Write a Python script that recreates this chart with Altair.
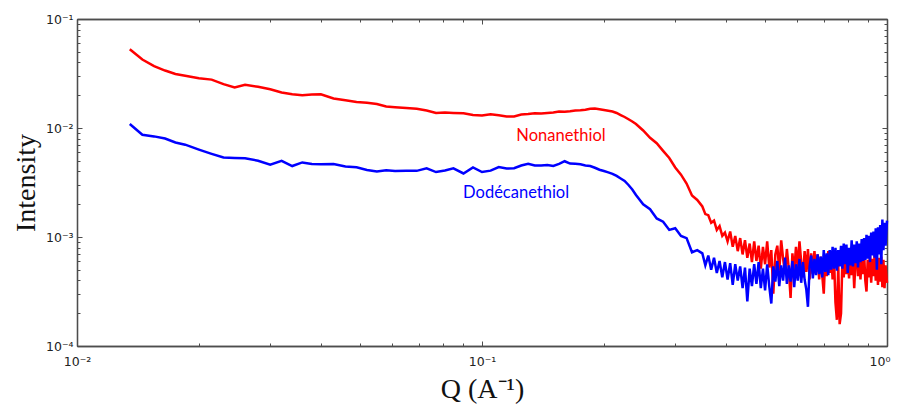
import altair as alt
import pandas as pd

# ---------------- data ----------------
q_low = [
    0.0135, 0.0145, 0.0155, 0.0165, 0.0175, 0.0185, 0.02, 0.0215, 0.023, 0.0245,
    0.026, 0.028, 0.03, 0.032, 0.034, 0.036, 0.038, 0.04, 0.043, 0.046,
    0.049, 0.052, 0.055, 0.058, 0.061, 0.065, 0.069, 0.073, 0.077, 0.081,
    0.085, 0.09, 0.095, 0.1, 0.105, 0.11, 0.115, 0.12, 0.125, 0.13,
    0.135, 0.14, 0.145, 0.15, 0.155, 0.16, 0.165, 0.17, 0.175, 0.18,
    0.185, 0.19, 0.195, 0.2, 0.205, 0.21, 0.215, 0.22, 0.225, 0.23,
    0.235, 0.24,
]
q_high = [
    0.25, 0.26, 0.27, 0.28, 0.29, 0.30, 0.31, 0.32, 0.33, 0.34,
    0.350, 0.356, 0.362, 0.368, 0.374, 0.380, 0.386, 0.392, 0.398, 0.404,
    0.410, 0.416, 0.422, 0.428, 0.434, 0.440, 0.446, 0.452, 0.458, 0.464,
    0.470, 0.476, 0.482, 0.488, 0.494, 0.500, 0.506, 0.512, 0.518, 0.524,
    0.530, 0.536, 0.542, 0.548, 0.554, 0.560, 0.566, 0.572, 0.578, 0.584,
    0.590, 0.596, 0.602, 0.608, 0.614, 0.620, 0.626, 0.632, 0.638, 0.644,
    0.650, 0.656, 0.662, 0.668, 0.674, 0.680, 0.686, 0.692, 0.698, 0.704,
    0.710, 0.716, 0.722, 0.728, 0.734, 0.740, 0.746, 0.752, 0.758, 0.764,
    0.770, 0.776, 0.782, 0.788, 0.794, 0.800, 0.806, 0.812, 0.818, 0.824,
    0.830, 0.836, 0.842, 0.848, 0.854, 0.860, 0.866, 0.872, 0.878, 0.884,
    0.890, 0.896, 0.902, 0.908, 0.914, 0.920, 0.926, 0.932, 0.938, 0.944,
    0.950, 0.956, 0.962, 0.968, 0.974, 0.980, 0.986, 0.992, 1.000,
]

# log10(Intensity), Nonanethiol (red)
nonane_log_low = [
    -1.278, -1.372, -1.433, -1.473, -1.504, -1.520, -1.544, -1.556, -1.598, -1.629,
    -1.604, -1.622, -1.645, -1.674, -1.691, -1.699, -1.692, -1.691, -1.729, -1.745,
    -1.761, -1.768, -1.780, -1.803, -1.809, -1.817, -1.823, -1.840, -1.863, -1.858,
    -1.862, -1.865, -1.881, -1.885, -1.873, -1.883, -1.894, -1.894, -1.876, -1.872,
    -1.865, -1.867, -1.862, -1.858, -1.849, -1.850, -1.846, -1.839, -1.837, -1.833,
    -1.824, -1.821, -1.828, -1.835, -1.842, -1.849, -1.862, -1.881, -1.899, -1.920,
    -1.940, -1.963,
]
nonane_log_high = [
    -2.023, -2.090, -2.140, -2.210, -2.275, -2.362, -2.428, -2.510, -2.620, -2.660,
    -2.720, -2.790, -2.800, -2.870, -2.850, -2.935, -2.900, -2.990, -2.960, -3.040,
    -2.950, -3.090, -2.990, -3.130, -3.010, -3.160, -3.030, -3.190, -3.060, -3.230,
    -3.040, -3.220, -3.080, -3.290, -3.090, -3.250, -3.040, -3.280, -3.120, -3.520,
    -3.160, -3.080, -3.310, -3.030, -3.200, -3.330, -3.110, -3.290, -3.560, -3.150,
    -3.320, -3.090, -3.280, -3.040, -3.230, -3.370, -3.130, -3.320, -3.110, -3.390,
    -3.150, -3.340, -3.130, -3.320, -3.160, -3.390, -3.180, -3.350, -3.520, -3.170,
    -3.360, -3.130, -3.330, -3.160, -3.390, -3.200, -3.600, -3.760, -3.260, -3.800,
    -3.700, -3.210, -3.370, -3.150, -3.340, -3.180, -3.380, -3.140, -3.350, -3.190,
    -3.470, -3.220, -3.140, -3.360, -3.170, -3.390, -3.190, -3.340, -3.150, -3.400,
    -3.500, -3.210, -3.370, -3.170, -3.420, -3.200, -3.360, -3.160, -3.400, -3.230,
    -3.440, -3.190, -3.410, -3.180, -3.460, -3.210, -3.470, -3.260, -3.420,
]

# log10(Intensity), Dodécanethiol (blue)
dodecane_log_low = [
    -1.963, -2.062, -2.077, -2.097, -2.133, -2.153, -2.198, -2.237, -2.271, -2.275,
    -2.277, -2.300, -2.336, -2.301, -2.349, -2.316, -2.331, -2.333, -2.330, -2.354,
    -2.361, -2.385, -2.400, -2.388, -2.394, -2.392, -2.393, -2.369, -2.404, -2.390,
    -2.370, -2.417, -2.361, -2.404, -2.391, -2.358, -2.372, -2.369, -2.344, -2.328,
    -2.344, -2.345, -2.339, -2.349, -2.330, -2.305, -2.326, -2.329, -2.333, -2.344,
    -2.349, -2.365, -2.383, -2.395, -2.407, -2.420, -2.440, -2.463, -2.486, -2.523,
    -2.564, -2.615,
]
dodecane_log_high = [
    -2.700, -2.745, -2.830, -2.860, -2.935, -2.920, -2.990, -3.010, -3.140, -3.120,
    -3.150, -3.260, -3.170, -3.300, -3.190, -3.330, -3.220, -3.370, -3.230, -3.390,
    -3.240, -3.440, -3.250, -3.400, -3.270, -3.470, -3.280, -3.590, -3.290, -3.450,
    -3.250, -3.430, -3.230, -3.470, -3.290, -3.490, -3.250, -3.450, -3.610, -3.270,
    -3.410, -3.220, -3.450, -3.260, -3.400, -3.190, -3.430, -3.260, -3.410, -3.220,
    -3.460, -3.250, -3.400, -3.200, -3.420, -3.230, -3.390, -3.480, -3.640, -3.270,
    -3.170, -3.380, -3.200, -3.350, -3.160, -3.340, -3.180, -3.370, -3.120, -3.320,
    -3.150, -3.350, -3.120, -3.300, -3.090, -3.290, -3.100, -3.310, -3.120, -3.270,
    -3.080, -3.290, -3.060, -3.250, -3.070, -3.330, -3.100, -3.260, -3.030, -3.270,
    -3.070, -3.240, -3.040, -3.280, -3.060, -3.230, -3.020, -3.220, -3.010, -3.210,
    -2.980, -3.200, -2.990, -3.230, -2.960, -3.170, -2.950, -3.190, -2.920, -3.300,
    -2.910, -3.160, -2.890, -3.250, -2.840, -3.120, -2.870, -3.080, -2.850,
]

# curve labels (placed in data coordinates)
label_names = ["Nonanethiol", "Dodécanethiol"]
label_q = [0.1567, 0.1214]
label_intensity = [0.00845, 0.00253]
label_colors = ["#ff0000", "#0000ff"]

# tick values
x_major = [0.01, 0.1, 1.0]
x_minor = [0.02, 0.03, 0.04, 0.05, 0.06, 0.07, 0.08, 0.09,
           0.2, 0.3, 0.4, 0.5, 0.6, 0.7, 0.8, 0.9]
y_major = [1e-4, 1e-3, 1e-2, 1e-1]
y_minor = [2e-4, 3e-4, 4e-4, 5e-4, 6e-4, 7e-4, 8e-4, 9e-4,
           2e-3, 3e-3, 4e-3, 5e-3, 6e-3, 7e-3, 8e-3, 9e-3,
           2e-2, 3e-2, 4e-2, 5e-2, 6e-2, 7e-2, 8e-2, 9e-2]

# ---------------- tables ----------------
q_all = q_low + q_high
red_df = pd.DataFrame({"Q": q_all, "I": [10 ** v for v in nonane_log_low + nonane_log_high]})
blue_df = pd.DataFrame({"Q": q_all, "I": [10 ** v for v in dodecane_log_low + dodecane_log_high]})
ann_df = pd.DataFrame({"label": label_names, "Q": label_q, "I": label_intensity})

xscale = alt.Scale(type="log", domain=[0.01, 1.0], nice=False)
yscale = alt.Scale(type="log", domain=[1e-4, 1e-1], nice=False)

label_expr = ("datum.value < 0.0002 ? '10⁻⁴' : datum.value < 0.002 ? '10⁻³' : "
              "datum.value < 0.02 ? '10⁻²' : datum.value < 0.2 ? '10⁻¹' : '10⁰'")

FRAME = "#4d4d4d"


def make_axis(orient, values, major, labelled=False, **extra):
    props = dict(
        orient=orient,
        values=values,
        grid=False,
        domain=True,
        domainColor=FRAME,
        domainWidth=1.3,
        ticks=True,
        tickColor=FRAME,
        tickWidth=1,
        tickSize={"expr": "-5" if major else "-3"},
        labels=labelled,
        labelFlush=False,
        labelOverlap=False,
    )
    if labelled:
        props.update(
            labelExpr=label_expr,
            labelFont="DejaVu Sans",
            labelFontSize=12.5,
            labelColor="#222222",
        )
    props.update(extra)
    return alt.Axis(**props)


ax_bottom_major = make_axis(
    "bottom", x_major, True, labelled=True, labelPadding=14,
    labelAlign={"condition": {"test": "datum.value > 0.5", "value": "right"}, "value": "center"},
    labelOffset={"condition": {"test": "datum.value > 0.5", "value": 3}, "value": 0},
    title="Q (A⁻¹)", titleFont="Liberation Serif", titleFontSize=28,
    titleFontWeight="normal", titleColor="#111111", titleX=405, titleY=51,
    titleBaseline="alphabetic", titleAlign="center",
)
ax_bottom_minor = make_axis("bottom", x_minor, False, title=None)
ax_top_major = make_axis("top", x_major, True, title=None)
ax_top_minor = make_axis("top", x_minor, False, title=None)

ax_left_major = make_axis(
    "left", y_major, True, labelled=True, labelPadding=9,
    title="Intensity", titleFont="Liberation Serif", titleFontSize=28,
    titleFontWeight="normal", titleColor="#111111", titleX=-43, titleY=163.5,
    titleBaseline="alphabetic", titleAlign="center", titleAngle=270,
)
ax_left_minor = make_axis("left", y_minor, False, title=None)
ax_right_major = make_axis("right", y_major, True, title=None)
ax_right_minor = make_axis("right", y_minor, False, title=None)

red = alt.Chart(red_df).mark_line(color="#ff0000", strokeWidth=2.5).encode(
    x=alt.X("Q:Q", scale=xscale, axis=ax_bottom_major),
    y=alt.Y("I:Q", scale=yscale, axis=ax_left_major),
)
blue = alt.Chart(blue_df).mark_line(color="#0000ff", strokeWidth=2.5).encode(
    x=alt.X("Q:Q", scale=xscale, axis=ax_bottom_minor),
    y=alt.Y("I:Q", scale=yscale, axis=ax_left_minor),
)
text = alt.Chart(ann_df).mark_text(
    font="Lato", fontSize=16.5, align="center", baseline="middle"
).encode(
    x=alt.X("Q:Q", scale=xscale, axis=ax_top_major),
    y=alt.Y("I:Q", scale=yscale, axis=ax_right_major),
    text="label:N",
    color=alt.Color("label:N", scale=alt.Scale(domain=label_names, range=label_colors), legend=None),
)
ghost = alt.Chart(ann_df).mark_point(opacity=0).encode(
    x=alt.X("Q:Q", scale=xscale, axis=ax_top_minor),
    y=alt.Y("I:Q", scale=yscale, axis=ax_right_minor),
)

chart = (
    alt.layer(red, blue, text, ghost)
    .resolve_scale(x="shared", y="shared")
    .resolve_axis(x="independent", y="independent")
    .properties(
        width=810,
        height=327,
        autosize=alt.AutoSizeParams(type="none"),
        padding={"left": 69, "top": 11, "right": 4, "bottom": 59},
        background="white",
    )
    .configure_view(stroke=None)
)

chart.save("out.html", embed_options={"renderer": "svg", "actions": False})
